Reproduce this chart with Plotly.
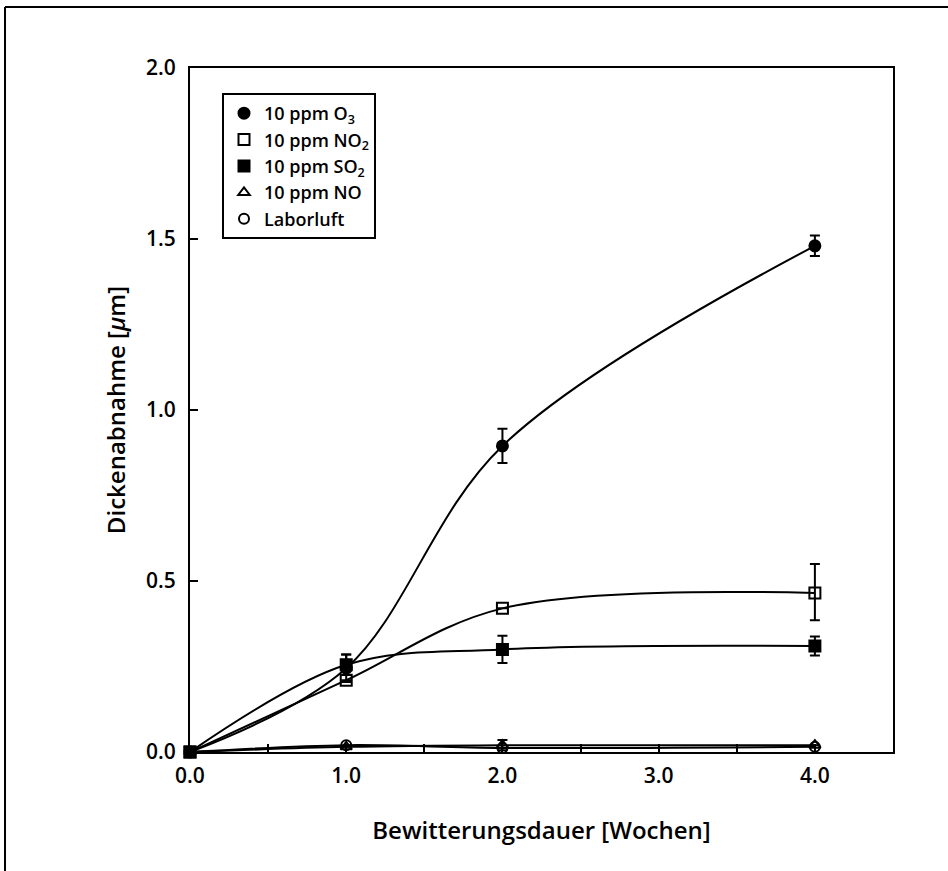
import plotly.graph_objects as go

weeks = [0, 1, 2, 4]
o3 = [0.0, 0.245, 0.895, 1.48]
o3_err = [0, 0.04, 0.05, 0.03]
no2 = [0.0, 0.21, 0.42, 0.465]
no2_err_plus = [0, 0, 0, 0.085]
no2_err_minus = [0, 0, 0, 0.08]
so2 = [0.0, 0.255, 0.30, 0.31]
so2_err = [0, 0.03, 0.04, 0.028]
no = [0.0, 0.015, 0.02, 0.02]
no_err = [0, 0, 0.015, 0]
luft = [0.0, 0.02, 0.012, 0.015]

names = ["10 ppm O<sub>3</sub>", "10 ppm NO<sub>2</sub>", "10 ppm SO<sub>2</sub>",
         "10 ppm NO", "Laborluft"]
x_ticks = [0, 1, 2, 3, 4]
x_labels = ["0.0", "1.0", "2.0", "3.0", "4.0"]
y_ticks = [0, 0.5, 1.0, 1.5, 2.0]
y_labels = ["0.0", "0.5", "1.0", "1.5", "2.0"]

W, H = 948, 871
L, R, T, B = 190, 55, 68, 119
pw, ph = W - L - R, H - T - B

FONT = "Open Sans"

fig = go.Figure()

series = [
    (o3, o3_err, o3_err, "circle", 11),
    (no2, no2_err_plus, no2_err_minus, "square-open", 11),
    (so2, so2_err, so2_err, "square", 11),
    (no, no_err, no_err, "triangle-up-open", 10),
    (luft, None, None, "circle-open", 10),
]

for vals, _, _, _, _ in series:
    fig.add_trace(go.Scatter(x=weeks, y=vals, mode="lines",
                             line=dict(color="black", width=2, shape="spline", smoothing=1.0),
                             showlegend=False, hoverinfo="skip", cliponaxis=False))

for (vals, ep, em, sym, sz), nm in zip(series, names):
    err = None
    if ep is not None:
        err = dict(type="data", array=ep, arrayminus=em, visible=True,
                   color="black", thickness=2, width=5)
    fig.add_trace(go.Scatter(x=weeks, y=vals, mode="markers", name=nm,
                             marker=dict(symbol=sym, size=sz, color="black",
                                         line=dict(color="black", width=2)),
                             error_y=err, cliponaxis=False))

def px_x(p):
    return (p - L) / pw

def px_y(p):
    return (H - B - p) / ph

fig.add_shape(type="line", xref="paper", yref="paper",
              x0=px_x(5), x1=px_x(948), y0=px_y(7), y1=px_y(7),
              line=dict(color="black", width=2))
fig.add_shape(type="line", xref="paper", yref="paper",
              x0=px_x(5), x1=px_x(5), y0=px_y(7), y1=px_y(871),
              line=dict(color="black", width=2))

axis_common = dict(showline=True, mirror=True, linecolor="black", linewidth=2,
                   showgrid=False, zeroline=False, ticks="inside", ticklen=8,
                   tickwidth=1.5, tickcolor="black",
                   tickfont=dict(family=FONT, size=21, color="black", weight=600))

fig.update_layout(
    width=W, height=H,
    margin=dict(l=L, r=R, t=T, b=B),
    paper_bgcolor="white", plot_bgcolor="white",
    xaxis=dict(range=[0, 4.5], tickvals=x_ticks, ticktext=x_labels,
               ticklabelstandoff=4,
               minor=dict(ticks="inside", dtick=0.5, ticklen=8, tickcolor="black", tickwidth=1.5),
               title=dict(text="Bewitterungsdauer [Wochen]", standoff=34,
                          font=dict(family=FONT, size=24, color="black", weight=600)),
               **axis_common),
    yaxis=dict(range=[0, 2.0], tickvals=y_ticks, ticktext=y_labels,
               ticklabelstandoff=8,
               title=dict(text="Dickenabnahme [<i>μ</i>m]", standoff=14,
                          font=dict(family=FONT, size=24, color="black", weight=600)),
               **axis_common),
    legend=dict(x=px_x(222), y=px_y(93), xanchor="left", yanchor="top",
                bordercolor="black", borderwidth=2, bgcolor="white",
                font=dict(family=FONT, size=18, color="black", weight=600),
                itemwidth=30, tracegroupgap=0),
    showlegend=True,
)

fig.write_html("out.html", config={"displayModeBar": False},
               post_script="document.body.style.margin='0';")
